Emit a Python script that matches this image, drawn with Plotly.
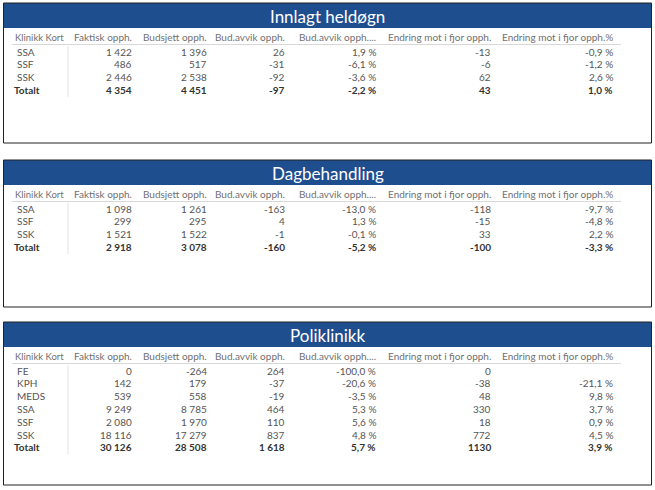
import plotly.graph_objects as go

# ---------------- data ----------------
columns = ["Klinikk Kort", "Faktisk opph.", "Budsjett opph.", "Bud.avvik opph.",
           "Bud.avvik opph....", "Endring mot i fjor opph.", "Endring mot i fjor opph.%"]

titles = ["Innlagt heldøgn", "Dagbehandling", "Poliklinikk"]

# Innlagt heldøgn
ih_klinikk = ["SSA", "SSF", "SSK", "Totalt"]
ih_faktisk = [1422, 486, 2446, 4354]
ih_budsjett = [1396, 517, 2538, 4451]
ih_avvik = [26, -31, -92, -97]
ih_avvik_pct = [1.9, -6.1, -3.6, -2.2]
ih_endring = [-13, -6, 62, 43]
ih_endring_pct = [-0.9, -1.2, 2.6, 1.0]

# Dagbehandling
db_klinikk = ["SSA", "SSF", "SSK", "Totalt"]
db_faktisk = [1098, 299, 1521, 2918]
db_budsjett = [1261, 295, 1522, 3078]
db_avvik = [-163, 4, -1, -160]
db_avvik_pct = [-13.0, 1.3, -0.1, -5.2]
db_endring = [-118, -15, 33, -100]
db_endring_pct = [-9.7, -4.8, 2.2, -3.3]

# Poliklinikk
pk_klinikk = ["FE", "KPH", "MEDS", "SSA", "SSF", "SSK", "Totalt"]
pk_faktisk = [0, 142, 539, 9249, 2080, 18116, 30126]
pk_budsjett = [-264, 179, 558, 8785, 1970, 17279, 28508]
pk_avvik = [264, -37, -19, 464, 110, 837, 1618]
pk_avvik_pct = [-100.0, -20.6, -3.5, 5.3, 5.6, 4.8, 5.7]
pk_endring = [0, -38, 48, 330, 18, 772, 1130]
pk_endring_pct = [None, -21.1, 9.8, 3.7, 0.9, 4.5, 3.9]

tables = [
    (ih_klinikk, ih_faktisk, ih_budsjett, ih_avvik, ih_avvik_pct, ih_endring, ih_endring_pct),
    (db_klinikk, db_faktisk, db_budsjett, db_avvik, db_avvik_pct, db_endring, db_endring_pct),
    (pk_klinikk, pk_faktisk, pk_budsjett, pk_avvik, pk_avvik_pct, pk_endring, pk_endring_pct),
]

# ---------------- formatting ----------------
def fmt_int(v):
    if v is None:
        return ""
    s = f"{abs(v):,}".replace(",", " ")
    return ("-" if v < 0 else "") + s

def fmt_plain(v):
    return "" if v is None else str(v)

def fmt_pct(v):
    if v is None:
        return ""
    return f"{v:.1f}".replace(".", ",") + " %"

formatters = [None, fmt_int, fmt_int, fmt_int, fmt_pct, fmt_plain, fmt_pct]

# ---------------- layout ----------------
W, H = 655, 490
FONT = "Lato, 'Open Sans', sans-serif"
panel_tops = [3, 160, 322]
panel_bottoms = [143, 307, 485]
left, right = 3.5, 651.5
header_h = 25
col_right = [None, 134, 209, 287, 378, 493, 615]
row_step = 12.8
blue = "#1f4e8f"

fig = go.Figure()
shapes = []
annotations = []

for p, (top, bottom, title, data) in enumerate(zip(panel_tops, panel_bottoms, titles, tables)):
    shapes.append(dict(type="rect", xref="x", yref="y", x0=left, x1=right, y0=top, y1=top + header_h,
                       fillcolor=blue, line=dict(width=0), layer="below"))
    shapes.append(dict(type="rect", xref="x", yref="y", x0=left, x1=right, y0=top, y1=bottom,
                       fillcolor="rgba(0,0,0,0)", line=dict(color="#222222", width=1)))
    annotations.append(dict(x=(left + right) / 2, y=top + header_h / 2 + 0.5, xref="x", yref="y",
                            text=title, showarrow=False, xanchor="center", yanchor="middle",
                            font=dict(family=FONT, size=17, color="white")))
    hy = top + 34
    for c, name in enumerate(columns):
        if c == 0:
            annotations.append(dict(x=13, y=hy, xref="x", yref="y", text=name,
                                    showarrow=False, xanchor="left", yanchor="middle",
                                    font=dict(family=FONT, size=9.5, color="#707070")))
        else:
            annotations.append(dict(x=col_right[c], y=hy, xref="x", yref="y", text=name,
                                    showarrow=False, xanchor="right", yanchor="middle",
                                    font=dict(family=FONT, size=10, color="#707070")))
    shapes.append(dict(type="line", xref="x", yref="y", x0=12, x1=621, y0=top + 41.5, y1=top + 41.5,
                       line=dict(color="#d8d8d8", width=1)))
    names = data[0]
    n = len(names)
    last_y = top + 48.5 + (n - 1) * row_step
    shapes.append(dict(type="line", xref="x", yref="y", x0=68, x1=68, y0=top + 43, y1=last_y + 7,
                       line=dict(color="#e2e2e2", width=1)))
    for r in range(n):
        y = top + 48.5 + r * row_step
        total = names[r] == "Totalt"
        color = "#333333" if total else "#555555"
        txt0 = f"<b>{names[r]}</b>" if total else names[r]
        annotations.append(dict(x=12 if total else 15, y=y, xref="x", yref="y", text=txt0,
                                showarrow=False, xanchor="left", yanchor="middle",
                                font=dict(family=FONT, size=10, color=color)))
        for c in range(1, 7):
            s = formatters[c](data[c][r])
            if s == "":
                continue
            if total:
                s = f"<b>{s}</b>"
            annotations.append(dict(x=col_right[c], y=y, xref="x", yref="y", text=s,
                                    showarrow=False, xanchor="right", yanchor="middle",
                                    font=dict(family=FONT, size=10, color=color)))

fig.update_layout(
    width=W, height=H, margin=dict(l=0, r=0, t=0, b=0),
    paper_bgcolor="white", plot_bgcolor="white",
    xaxis=dict(range=[0, W], visible=False, fixedrange=True),
    yaxis=dict(range=[H, 0], visible=False, fixedrange=True),
    shapes=shapes, annotations=annotations, showlegend=False,
)

fig.write_html("out.html", config={"displayModeBar": False},
               post_script="document.body.style.margin='0';")
